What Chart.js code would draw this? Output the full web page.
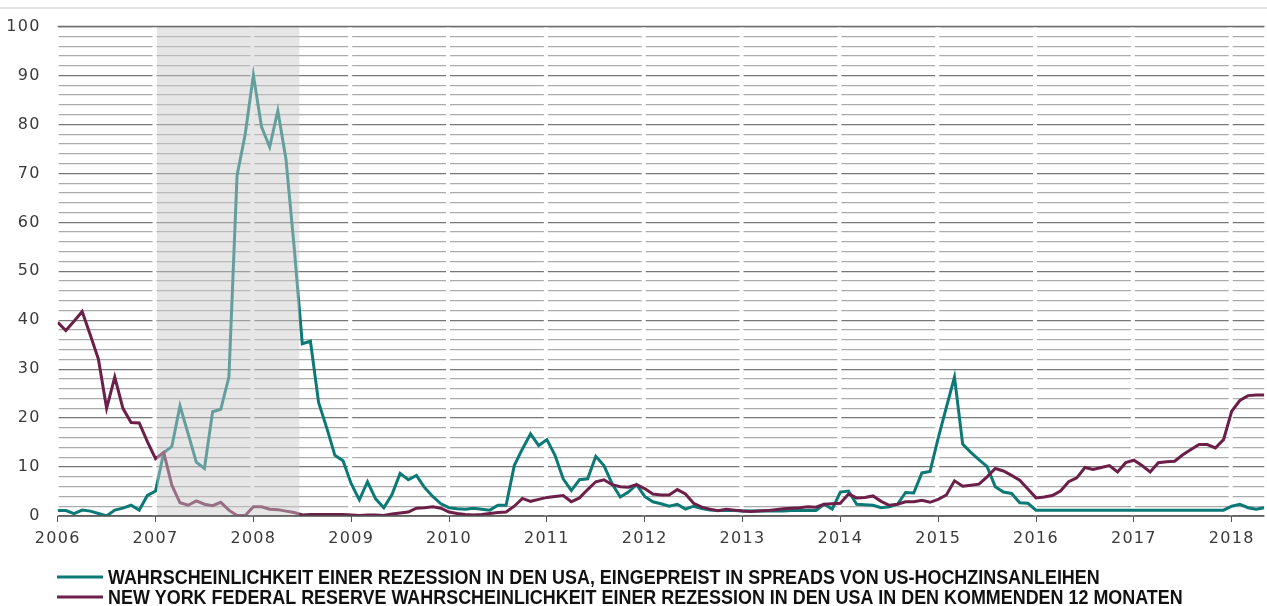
<!DOCTYPE html>
<html>
<head>
<meta charset="utf-8">
<script src="https://cdn.jsdelivr.net/npm/chart.js@4"></script>
<style>
  html, body { margin: 0; padding: 0; background: #ffffff; }
  canvas { display: block; }
</style>
</head>
<body>
<canvas id="chart" width="1267" height="606"></canvas>
<script>
// Monthly observations, January 2006 to May 2018
const firstYear = 2006;
const yearTicks = [2006, 2007, 2008, 2009, 2010, 2011, 2012, 2013, 2014, 2015, 2016, 2017, 2018];
const recessionBand = [2007.015, 2008.47];

const seriesNames = [
  'WAHRSCHEINLICHKEIT EINER REZESSION IN DEN USA, EINGEPREIST IN SPREADS VON US-HOCHZINSANLEIHEN',
  'NEW YORK FEDERAL RESERVE WAHRSCHEINLICHKEIT EINER REZESSION IN DEN USA IN DEN KOMMENDEN 12 MONATEN'
];
const seriesColors = ['#0b7a76', '#6c1f48'];

// Recession probability priced into US high-yield spreads (%)
const spreadImplied = [
  1.1, 1.1, 0.5, 1.2, 1.0, 0.5, 0.0, 1.2, 1.6, 2.2, 1.2, 4.2,        // 2006
  5.1, 12.9, 14.2, 22.5, 16.8, 11.0, 9.7, 21.3, 21.8, 28.4, 69.6, 78.0, // 2007
  90.1, 79.5, 75.4, 82.8, 72.9, 55.0, 35.2, 35.7, 23.2, 18.0, 12.4, 11.3, // 2008
  6.6, 3.3, 7.0, 3.5, 1.7, 4.4, 8.7, 7.4, 8.3, 5.8, 4.0, 2.5,        // 2009
  1.7, 1.5, 1.4, 1.6, 1.4, 1.2, 2.2, 2.2, 10.3, 13.7, 16.8, 14.4,    // 2010
  15.6, 12.4, 7.6, 5.2, 7.4, 7.6, 12.2, 10.3, 6.6, 3.9, 4.9, 6.4,    // 2011
  4.0, 2.9, 2.5, 2.0, 2.4, 1.4, 2.0, 1.5, 1.2, 1.1, 1.1, 1.1,        // 2012
  1.0, 1.0, 1.0, 1.0, 1.0, 1.0, 1.1, 1.1, 1.1, 1.1, 2.4, 1.4,        // 2013
  4.9, 5.1, 2.4, 2.3, 2.2, 1.7, 1.9, 2.4, 4.8, 4.7, 8.8, 9.1,        // 2014
  15.9, 22.2, 28.4, 14.7, 13.0, 11.5, 10.1, 6.0, 4.9, 4.6, 2.7, 2.6, // 2015
  1.2, 1.2, 1.2, 1.2, 1.2, 1.2, 1.2, 1.2, 1.2, 1.2, 1.2, 1.2,        // 2016
  1.2, 1.2, 1.2, 1.2, 1.2, 1.2, 1.2, 1.2, 1.2, 1.2, 1.2, 1.2,        // 2017
  2.0, 2.4, 1.7, 1.4, 1.7                                            // 2018
];

// New York Fed recession probability, next 12 months (%)
const nyFedModel = [
  39.6, 37.9, 39.8, 41.8, 37.0, 32.0, 22.0, 28.4, 22.0, 19.1, 19.0, 15.2, // 2006
  11.7, 13.0, 6.3, 2.7, 2.2, 3.1, 2.4, 2.1, 2.8, 1.2, 0.1, 0.1,        // 2007
  1.9, 1.9, 1.4, 1.3, 1.0, 0.7, 0.2, 0.3, 0.3, 0.3, 0.3, 0.3,          // 2008
  0.2, 0.1, 0.2, 0.2, 0.1, 0.4, 0.6, 0.8, 1.6, 1.7, 1.9, 1.6,          // 2009
  0.8, 0.5, 0.3, 0.2, 0.3, 0.5, 0.7, 0.8, 2.0, 3.6, 3.0, 3.4,          // 2010
  3.8, 4.0, 4.2, 2.9, 3.7, 5.4, 7.0, 7.4, 6.4, 6.0, 5.9, 6.4,          // 2011
  5.6, 4.5, 4.3, 4.3, 5.4, 4.5, 2.6, 1.8, 1.4, 1.1, 1.4, 1.2,          // 2012
  1.0, 0.9, 1.0, 1.1, 1.3, 1.5, 1.6, 1.7, 1.9, 1.8, 2.4, 2.5,          // 2013
  2.6, 4.5, 3.7, 3.8, 4.1, 3.0, 2.2, 2.4, 2.9, 2.9, 3.2, 2.8,          // 2014
  3.4, 4.3, 7.2, 6.1, 6.3, 6.5, 8.0, 9.7, 9.2, 8.3, 7.3, 5.5,          // 2015
  3.7, 3.9, 4.2, 5.1, 7.0, 7.8, 9.9, 9.5, 9.9, 10.3, 9.0, 10.9,        // 2016
  11.4, 10.3, 9.0, 10.9, 11.1, 11.2, 12.5, 13.6, 14.6, 14.6, 13.9, 15.6, // 2017
  21.4, 23.6, 24.6, 24.7, 24.7                                         // 2018
];

// decimal year of each monthly observation
const monthX = spreadImplied.map((_, i) => firstYear + i / 12);
const toPoints = vals => vals.map((v, i) => ({ x: monthX[i], y: v }));

const TICK_FONT = { family: '"DejaVu Sans", sans-serif', size: 16 };

const decor = {
  id: 'decor',
  beforeDraw(chart) {
    const { ctx, width } = chart;
    ctx.save();
    ctx.strokeStyle = '#dddddd';
    ctx.lineWidth = 1.5;
    ctx.beginPath();
    ctx.moveTo(0, 8);
    ctx.lineTo(width, 8);
    ctx.stroke();
    ctx.restore();
    ctx.letterSpacing = '1.3px';
  },
  beforeDatasetsDraw(chart) {
    // white year separators cut through the horizontal grid
    const { ctx, chartArea: a, scales: { x } } = chart;
    ctx.save();
    ctx.strokeStyle = '#ffffff';
    ctx.lineWidth = 4;
    yearTicks.forEach(yr => {
      const px = x.getPixelForValue(yr) - 1;
      ctx.beginPath();
      ctx.moveTo(px, a.top);
      ctx.lineTo(px, a.bottom);
      ctx.stroke();
    });
    ctx.restore();
  },
  afterDatasetsDraw(chart) {
    const { ctx, chartArea: a, scales: { x } } = chart;
    ctx.save();
    const x0 = x.getPixelForValue(recessionBand[0]);
    const x1 = x.getPixelForValue(recessionBand[1]);
    ctx.fillStyle = 'rgba(202, 202, 202, 0.47)';
    ctx.fillRect(x0, a.top, x1 - x0, a.bottom - a.top);

    ctx.strokeStyle = '#6c6c6c';
    ctx.lineWidth = 1.5;
    ctx.beginPath();
    ctx.moveTo(a.left, a.top);
    ctx.lineTo(a.right, a.top);
    ctx.stroke();

    ctx.strokeStyle = '#555555';
    ctx.beginPath();
    ctx.moveTo(a.left, a.bottom);
    ctx.lineTo(a.right, a.bottom);
    ctx.stroke();
    ctx.restore();
  },
  afterDraw(chart) {
    // legend: short line sample followed by the series name, condensed bold caps
    const { ctx } = chart;
    ctx.save();
    ctx.letterSpacing = '0px';
    ctx.font = 'bold 19.5px "Liberation Sans", Arial, sans-serif';
    ctx.textBaseline = 'alphabetic';
    ctx.textAlign = 'left';
    chart.data.datasets.forEach((ds, i) => {
      const y = 577 + i * 20;
      ctx.strokeStyle = ds.borderColor;
      ctx.lineWidth = 3;
      ctx.beginPath();
      ctx.moveTo(57, y);
      ctx.lineTo(103, y);
      ctx.stroke();
      ctx.save();
      ctx.translate(108, y + 6.5);
      ctx.scale(0.919, 1);
      ctx.fillStyle = '#111111';
      ctx.fillText(ds.label, 0, 0);
      ctx.restore();
    });
    ctx.restore();
  }
};

new Chart(document.getElementById('chart'), {
  type: 'line',
  data: {
    datasets: [
      {
        label: seriesNames[0],
        data: toPoints(spreadImplied),
        borderColor: seriesColors[0],
        borderWidth: 3,
        pointRadius: 0,
        tension: 0,
        order: 1
      },
      {
        label: seriesNames[1],
        data: toPoints(nyFedModel),
        borderColor: seriesColors[1],
        borderWidth: 3,
        pointRadius: 0,
        tension: 0,
        order: 0
      }
    ]
  },
  options: {
    responsive: false,
    animation: false,
    devicePixelRatio: 1,
    layout: { padding: { top: 19.4, right: 2.7, bottom: 0, left: 0 } },
    plugins: {
      legend: { display: false },
      tooltip: { enabled: false }
    },
    scales: {
      x: {
        type: 'linear',
        min: firstYear,
        max: monthX[monthX.length - 1],
        afterBuildTicks: scale => { scale.ticks = yearTicks.map(v => ({ value: v })); },
        afterFit: scale => { scale.height = 90; },
        border: { display: false },
        grid: {
          drawOnChartArea: false,
          drawTicks: true,
          tickLength: 6,
          color: '#555555',
          lineWidth: 1
        },
        ticks: {
          autoSkip: false,
          maxRotation: 0,
          padding: 7,
          color: '#3a3a3a',
          font: TICK_FONT,
          callback: v => String(v)
        }
      },
      y: {
        min: 0,
        max: 100,
        afterFit: scale => { scale.width = 57.7; },
        border: { display: false },
        grid: {
          drawTicks: false,
          lineWidth: 1.3,
          color: c => (c.tick.value % 10 === 0 ? '#767676' : '#ababab')
        },
        ticks: {
          stepSize: 2,
          autoSkip: false,
          padding: 17,
          color: '#3a3a3a',
          font: TICK_FONT,
          callback: v => (v % 10 === 0 ? String(v) : '')
        }
      }
    }
  },
  plugins: [decor]
});
</script>
</body>
</html>
